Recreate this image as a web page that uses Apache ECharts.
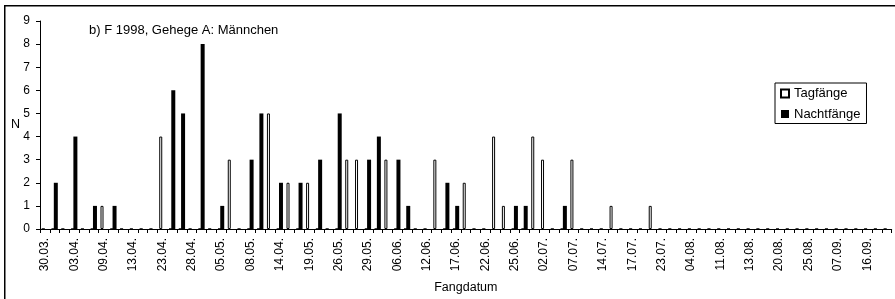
<!DOCTYPE html>
<html><head><meta charset="utf-8">
<script src="https://cdn.jsdelivr.net/npm/echarts@6/dist/echarts.min.js"></script>
<style>html,body{margin:0;padding:0;background:#fff}#c{width:895px;height:299px}</style>
</head><body><div id="c"></div>
<script>
// tick labels shown on every third capture day
const tickLabels = ['30.03.','03.04.','09.04.','13.04.','23.04.','28.04.','05.05.','08.05.','14.04.','19.05.',
  '26.05.','29.05.','06.06.','12.06.','17.06.','22.06.','25.06.','02.07.','07.07.','14.07.',
  '17.07.','23.07.','04.08.','11.08.','13.08.','20.08.','25.08.','07.09.','16.09.'];
// capture days (87 categories)
const categories = [];
for (let i = 0; i < 87; i++) categories.push('Tag ' + (i + 1));
// Tagfänge
const tagValues = [
  0,0,0,0,0,0,1,0,0,0,
  0,0,4,0,0,0,0,0,0,3,
  0,0,0,5,0,2,0,2,0,0,
  0,3,3,0,0,3,0,0,0,0,
  3,0,0,2,0,0,4,1,0,0,
  4,3,0,0,3,0,0,0,1,0,
  0,0,1,0,0,0,0,0,0,0,
  0,0,0,0,0,0,0,0,0,0,
  0,0,0,0,0,0,0];
// Nachtfänge
const nachtValues = [
  0,2,0,4,0,1,0,1,0,0,
  0,0,0,6,5,0,8,0,1,0,
  0,3,5,0,2,0,2,0,3,0,
  5,0,0,3,4,0,3,1,0,0,
  0,2,1,0,0,0,0,0,1,1,
  0,0,0,1,0,0,0,0,0,0,
  0,0,0,0,0,0,0,0,0,0,
  0,0,0,0,0,0,0,0,0,0,
  0,0,0,0,0,0,0];

const FF = '"Liberation Sans", Arial, sans-serif';
const chart = echarts.init(document.getElementById('c'), null, {renderer: 'canvas'});
chart.setOption({
  animation: false,
  backgroundColor: '#fff',
  title: {
    text: 'b) F 1998, Gehege A: Männchen', left: 89, top: 24, padding: 0,
    textStyle: {fontSize: 13, fontWeight: 'normal', color: '#000', fontFamily: FF}
  },
  legend: {
    orient: 'vertical', left: 775, top: 83, padding: [4, 6, 3, 5],
    itemWidth: 8, itemHeight: 8, itemGap: 7.5, icon: 'rect',
    borderColor: '#000', borderWidth: 1, backgroundColor: '#fff',
    textStyle: {fontSize: 13, color: '#000', fontFamily: FF},
    data: ['Tagfänge', 'Nachtfänge']
  },
  grid: {left: 40, right: 3.3, top: 21, bottom: 70, containLabel: false, outerBoundsMode: 'none'},
  xAxis: {
    type: 'category', data: categories, boundaryGap: true,
    name: 'Fangdatum', nameLocation: 'middle', nameGap: 52, nameMoveOverlap: false,
    nameTextStyle: {fontSize: 12.5, color: '#000', fontFamily: FF},
    axisLine: {lineStyle: {color: '#000', width: 1}},
    axisTick: {show: true, interval: 0, length: 4, inside: false, lineStyle: {color: '#000'}},
    axisLabel: {
      interval: 2, rotate: 90, margin: 9,
      fontSize: 12, color: '#000', fontFamily: FF,
      formatter: function (v, idx) { return idx % 3 === 0 ? tickLabels[idx / 3] : ''; }
    },
    splitLine: {show: false}
  },
  yAxis: {
    type: 'value', min: 0, max: 9, interval: 1,
    name: 'N', nameLocation: 'middle', nameGap: 20, nameRotate: 0, nameMoveOverlap: false,
    nameTextStyle: {fontSize: 12.5, color: '#000', fontFamily: FF, padding: [6, 0, 0, 0]},
    axisLine: {show: true, lineStyle: {color: '#000', width: 1}},
    axisTick: {show: true, length: 4, inside: false, lineStyle: {color: '#000'}},
    axisLabel: {fontSize: 12, margin: 10, color: '#000', fontFamily: FF},
    splitLine: {show: false}
  },
  graphic: [{
    type: 'rect', silent: true, z: -10,
    shape: {x: 4.75, y: 5.75, width: 1000, height: 1000},
    style: {fill: 'none', stroke: '#000', lineWidth: 1.5}
  }],
  series: [
    {name: 'Tagfänge', type: 'bar', data: tagValues, barWidth: 3, barGap: '-25%',
     itemStyle: {color: '#fff', borderColor: '#000', borderWidth: 1}},
    {name: 'Nachtfänge', type: 'bar', data: nachtValues, barWidth: 4, barGap: '-25%',
     itemStyle: {color: '#000', borderColor: '#000', borderWidth: 0}}
  ]
});
</script></body></html>
